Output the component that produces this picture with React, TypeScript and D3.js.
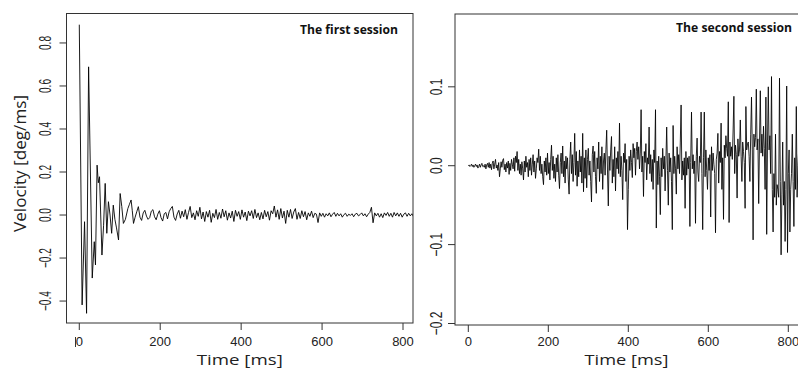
import React from 'react';
import * as d3 from 'd3';

// ---------- Data ----------
// Session 1: early damped oscillation (explicit times, ms)
const session1EarlyTimes = [0, 7, 13, 18, 23, 32, 37, 40, 44, 47, 50, 56, 60, 64, 68, 72, 76, 80, 84, 88, 92, 97, 101, 105, 109, 114, 120, 124, 128, 131, 134, 138];
const session1EarlyValues = [0.885, -0.418, -0.031, -0.457, 0.689, -0.293, -0.124, -0.232, 0.232, 0.150, 0.178, -0.186, -0.05, 0.147, -0.085, 0.062, 0.0, -0.085, 0.046, -0.02, -0.06, -0.116, 0.100, 0.04, -0.039, -0.02, 0.03, 0.05, 0.070, 0.02, -0.039, -0.01];
// Session 1: later residual noise, sampled every 4 ms from 142 ms
const session1NoiseStart = 142;
const session1NoiseStep = 4;
const session1NoiseValues = [
  0.015, 0.039, -0.010, -0.025, 0.010, 0.022, -0.005, -0.020, -0.012, 0.018,
  0.025, -0.008, -0.022, 0.004, 0.020, -0.012, -0.028, 0.006, 0.012, -0.018,
  0.015, 0.030, 0.040, -0.010, -0.025, 0.005, 0.022, -0.015, 0.018, -0.008,
  0.025, -0.020, 0.012, 0.040, -0.012, 0.010, -0.022, 0.020, -0.006, 0.036,
  -0.018, 0.014, -0.030, 0.016, -0.010, 0.022, -0.034, 0.008, -0.012, 0.026,
  -0.020, 0.012, -0.015, 0.028, -0.008, 0.020, -0.024, 0.010, -0.014, 0.018,
  -0.030, 0.022, -0.006, 0.016, -0.020, 0.024, -0.010, 0.014, -0.026, 0.018,
  -0.004, 0.020, -0.016, 0.026, -0.012, 0.010, -0.022,
  0.012, -0.018, 0.022, -0.008, 0.016, -0.024, 0.020, 0.006, 0.042, -0.010,
  0.024, -0.020, 0.030, -0.014, 0.018, -0.039, 0.022, -0.010, 0.026, -0.016,
  0.014, 0.030, -0.020, 0.012, -0.016, 0.020, -0.008, 0.016, -0.022, 0.010,
  -0.006, 0.018, -0.012, 0.008, 0.004, -0.035, 0.010, -0.006, 0.008, -0.010,
  0.006, -0.004, 0.010, -0.008, 0.004, 0.012, -0.006, 0.008, -0.004, 0.006,
  -0.010, 0.002, 0.008, -0.006, 0.004, -0.002, 0.006, -0.008, 0.004, 0.008,
  -0.004, 0.002, 0.010, -0.004, 0.006, -0.008, 0.004, 0.012, 0.036, -0.036,
  0.010, -0.004, 0.008, -0.010, 0.006, -0.012, 0.010, -0.002, 0.012, -0.006,
  0.008, -0.010, 0.012, -0.004, 0.010, -0.006,
  0.008, -0.010, 0.004, 0.010, -0.006, 0.008, -0.004, 0.006, -0.008, 0.004
];

// Session 2: sampled every 2 ms from 0 ms
const session2Step = 2;
const session2Values = [
  // 0-98
  0.000, 0.001, -0.001, 0.000, 0.002, -0.001, 0.001, -0.002, 0.000, 0.002,
  -0.001, 0.001, -0.003, -0.001, 0.002, -0.002, 0.001, 0.003, -0.001, 0.000,
  -0.002, 0.002, -0.004, 0.001, 0.003, -0.002, 0.004, -0.003, 0.002, -0.005,
  0.003, 0.006, -0.004, 0.002, 0.008, -0.003, 0.001, -0.006, 0.004, -0.014,
  -0.004, 0.005, -0.002, 0.007, 0.009, -0.005, 0.002, -0.008, 0.004, -0.003,
  // 100-198
  0.006, -0.011, 0.003, -0.006, 0.008, 0.002, -0.004, 0.010, -0.007, 0.012,
  0.004, 0.018, -0.006, 0.008, -0.010, 0.002, -0.012, 0.005, -0.004, -0.018,
  0.006, -0.008, 0.012, -0.002, 0.004, -0.014, 0.008, -0.006, 0.010, -0.012,
  0.002, 0.014, -0.008, 0.006, -0.016, -0.004, 0.010, 0.004, 0.021, -0.006,
  0.012, -0.010, 0.002, -0.014, -0.024, 0.006, -0.008, 0.010, -0.012, 0.016,
  // 200-298
  -0.010, 0.004, -0.018, 0.008, 0.026, -0.006, 0.012, -0.016, 0.002, -0.020,
  0.010, -0.008, 0.014, -0.012, -0.029, 0.004, 0.016, -0.010, 0.025, -0.014,
  0.006, -0.022, 0.012, -0.004, 0.010, -0.018, -0.036, 0.008, 0.030, -0.010,
  0.014, -0.020, 0.004, 0.041, -0.012, 0.018, -0.026, 0.006, -0.014, 0.020,
  -0.008, 0.012, -0.022, 0.041, -0.033, 0.010, -0.016, 0.020, -0.028, 0.008,
  // 300-398
  0.022, -0.012, 0.006, -0.020, -0.046, 0.014, 0.025, -0.008, 0.018, -0.014,
  -0.035, 0.010, -0.004, 0.030, -0.020, 0.012, -0.010, 0.024, -0.030, 0.006,
  0.016, -0.012, 0.020, 0.045, -0.008, -0.051, 0.012, -0.006, 0.020, 0.037,
  -0.022, 0.008, -0.014, 0.024, -0.032, 0.010, -0.004, 0.018, -0.010, 0.054,
  -0.014, 0.012, -0.006, -0.043, 0.016, 0.004, 0.028, -0.020, 0.008, -0.081,
  // 400-498
  -0.030, 0.012, -0.006, 0.020, 0.004, -0.015, 0.028, 0.010, 0.022, -0.012,
  0.018, 0.030, 0.008, 0.024, -0.004, 0.016, 0.071, -0.008, 0.012, -0.039,
  0.018, 0.004, 0.028, -0.018, 0.010, 0.002, 0.049, -0.010, 0.014, -0.020,
  0.008, -0.030, 0.020, 0.004, 0.071, -0.079, 0.006, -0.024, 0.012, -0.014,
  -0.062, 0.010, -0.014, 0.022, -0.004, 0.012, -0.032, 0.006, 0.049, -0.006,
  // 500-598
  -0.050, 0.016, -0.008, 0.010, -0.020, -0.081, 0.051, -0.010, 0.012, -0.004,
  -0.036, 0.024, -0.004, 0.014, -0.010, 0.030, 0.077, -0.018, 0.006, -0.012,
  0.010, -0.054, 0.018, -0.012, 0.010, -0.004, 0.012, -0.077, 0.004, 0.068,
  -0.004, 0.014, -0.010, 0.006, -0.073, 0.012, 0.035, -0.008, -0.020, 0.012,
  0.004, 0.068, -0.010, -0.081, 0.010, 0.068, -0.014, 0.020, -0.006, -0.030,
  // 600-698
  0.010, -0.006, 0.014, -0.065, 0.024, -0.006, 0.016, 0.002, -0.010, -0.085,
  0.008, 0.016, 0.041, -0.022, 0.018, 0.004, 0.054, -0.030, 0.010, -0.068,
  0.026, 0.010, 0.038, 0.022, 0.012, 0.081, -0.072, 0.030, 0.012, 0.024,
  0.008, 0.044, 0.088, -0.010, 0.026, 0.014, -0.041, 0.034, 0.012, 0.020,
  0.058, 0.012, -0.020, 0.030, 0.018, 0.004, -0.054, 0.075, 0.020, 0.028,
  // 700-798
  0.030, 0.012, -0.020, 0.040, 0.087, 0.020, -0.094, 0.040, 0.024, 0.036,
  0.097, 0.020, 0.034, -0.048, 0.030, 0.095, 0.016, 0.040, 0.012, 0.050,
  0.022, -0.030, 0.087, -0.087, 0.030, 0.100, 0.020, 0.038, -0.010, 0.113,
  -0.030, -0.084, -0.010, -0.040, 0.040, -0.050, -0.024, -0.030, -0.040, 0.111,
  -0.020, -0.113, -0.036, 0.030, -0.050, -0.020, -0.096, -0.030, 0.101, -0.110,
  // 800-832
  -0.010, 0.020, -0.084, -0.030, -0.010, 0.040, -0.020, -0.077, 0.010, -0.030,
  0.075, -0.040, 0.000, 0.020, -0.030, -0.010, 0.010
];

const xTicks = [0, 200, 400, 600, 800];
const yTicks1 = [-0.4, -0.2, 0, 0.2, 0.4, 0.6, 0.8];
const yTicks2 = [-0.2, -0.1, 0, 0.1];
const titles = ['The first session', 'The second session'];
const xLabel = 'Time [ms]';
const yLabel = 'Velocity [deg/ms]';

// ---------- Layout ----------
const W = 798;
const H = 369;
const P1 = { left: 66.5, right: 413, top: 13.5, bottom: 323 };
const P2 = { left: 455, right: 800, top: 14, bottom: 325 };

type Pt = { t: number; v: number };

const tickFont = "'Liberation Sans', Arial, sans-serif";
const labelFont = "'Open Sans', 'Noto Sans', sans-serif";

function fmtY(v: number, digits: number) {
  const s = v.toFixed(digits);
  return s.startsWith('-') ? '\u2212' + s.slice(1) : s;
}

export default function App() {
  const s1: Pt[] = [
    ...session1EarlyTimes.map((t, i) => ({ t, v: session1EarlyValues[i] })),
    ...session1NoiseValues.map((v, i) => ({ t: session1NoiseStart + i * session1NoiseStep, v })),
  ];
  const s2: Pt[] = session2Values.map((v, i) => ({ t: i * session2Step, v }));

  const x1 = d3.scaleLinear().domain([-31.6, 824.7]).range([P1.left, P1.right]);
  const y1 = d3.scaleLinear().domain([-0.502, 0.937]).range([P1.bottom, P1.top]);
  const x2 = d3.scaleLinear().domain([-33.25, 829.25]).range([P2.left, P2.right]);
  const y2 = d3.scaleLinear().domain([-0.2019, 0.1923]).range([P2.bottom, P2.top]);

  const line1 = d3.line<Pt>().x(d => x1(d.t)).y(d => y1(d.v));
  const line2 = d3.line<Pt>().x(d => x2(d.t)).y(d => y2(d.v));

  const axisColor = '#333';

  return (
    <svg width={W} height={H} style={{ position: 'absolute', left: 0, top: 0, background: '#fff' }}>
      <defs>
        <clipPath id="clip1"><rect x={P1.left} y={P1.top} width={P1.right - P1.left} height={P1.bottom - P1.top} /></clipPath>
        <clipPath id="clip2"><rect x={P2.left} y={P2.top} width={P2.right - P2.left} height={P2.bottom - P2.top} /></clipPath>
      </defs>

      {/* Panel 1 */}
      <path d={line1(s1) || ''} fill="none" stroke="#000" strokeWidth={0.9} clipPath="url(#clip1)" />
      <rect x={P1.left} y={P1.top} width={P1.right - P1.left} height={P1.bottom - P1.top} fill="none" stroke={axisColor} strokeWidth={1} />
      {yTicks1.map(t => (
        <g key={'y1' + t}>
          <line x1={P1.left} x2={P1.left - 7} y1={y1(t)} y2={y1(t)} stroke={axisColor} />
          <text transform={`translate(50.5,${y1(t)}) rotate(-90) scale(0.78,1.2)`} textAnchor="middle" fontFamily={tickFont} fontSize={13} fill="#222">{fmtY(t, 1)}</text>
        </g>
      ))}
      {xTicks.map(t => (
        <g key={'x1' + t}>
          <line x1={x1(t)} x2={x1(t)} y1={P1.bottom} y2={P1.bottom + 7} stroke={axisColor} />
          <text x={x1(t)} y={346} textAnchor="middle" fontFamily={tickFont} fontSize={13} fill="#222">{t}</text>
        </g>
      ))}
      <line x1={75.5} x2={75.5} y1={337} y2={347} stroke={axisColor} strokeWidth={1} />
      <text x={(P1.left + P1.right) / 2} y={364.5} textAnchor="middle" fontFamily={labelFont} fontSize={14.5} textLength={86} lengthAdjust="spacingAndGlyphs" fill="#222">{xLabel}</text>
      <text transform={`translate(26,163.5) rotate(-90)`} textAnchor="middle" fontFamily={labelFont} fontSize={15.5} textLength={137} lengthAdjust="spacingAndGlyphs" fill="#222">{yLabel}</text>
      <text x={300} y={34} fontFamily={labelFont} fontWeight="bold" fontSize={12.5} textLength={98} lengthAdjust="spacingAndGlyphs" fill="#111">{titles[0]}</text>

      {/* Panel 2 */}
      <path d={line2(s2) || ''} fill="none" stroke="#000" strokeWidth={0.85} clipPath="url(#clip2)" />
      <rect x={P2.left} y={P2.top} width={P2.right - P2.left} height={P2.bottom - P2.top} fill="none" stroke={axisColor} strokeWidth={1} />
      {yTicks2.map(t => (
        <g key={'y2' + t}>
          <line x1={P2.left} x2={P2.left - 7} y1={y2(t)} y2={y2(t)} stroke={axisColor} />
          <text transform={`translate(441.5,${y2(t)}) rotate(-90) scale(0.92,1.3)`} textAnchor="middle" fontFamily={tickFont} fontSize={13} fill="#222">{fmtY(t, 1)}</text>
        </g>
      ))}
      {xTicks.map(t => (
        <g key={'x2' + t}>
          <line x1={x2(t)} x2={x2(t)} y1={P2.bottom} y2={P2.bottom + 7} stroke={axisColor} />
          <text x={x2(t)} y={346} textAnchor="middle" fontFamily={tickFont} fontSize={13} fill="#222">{t}</text>
        </g>
      ))}
      <text x={626.5} y={364.5} textAnchor="middle" fontFamily={labelFont} fontSize={14.5} textLength={84} lengthAdjust="spacingAndGlyphs" fill="#222">{xLabel}</text>
      <text x={676} y={32} fontFamily={labelFont} fontWeight="bold" fontSize={12.5} textLength={116} lengthAdjust="spacingAndGlyphs" fill="#111">{titles[1]}</text>
    </svg>
  );
}
